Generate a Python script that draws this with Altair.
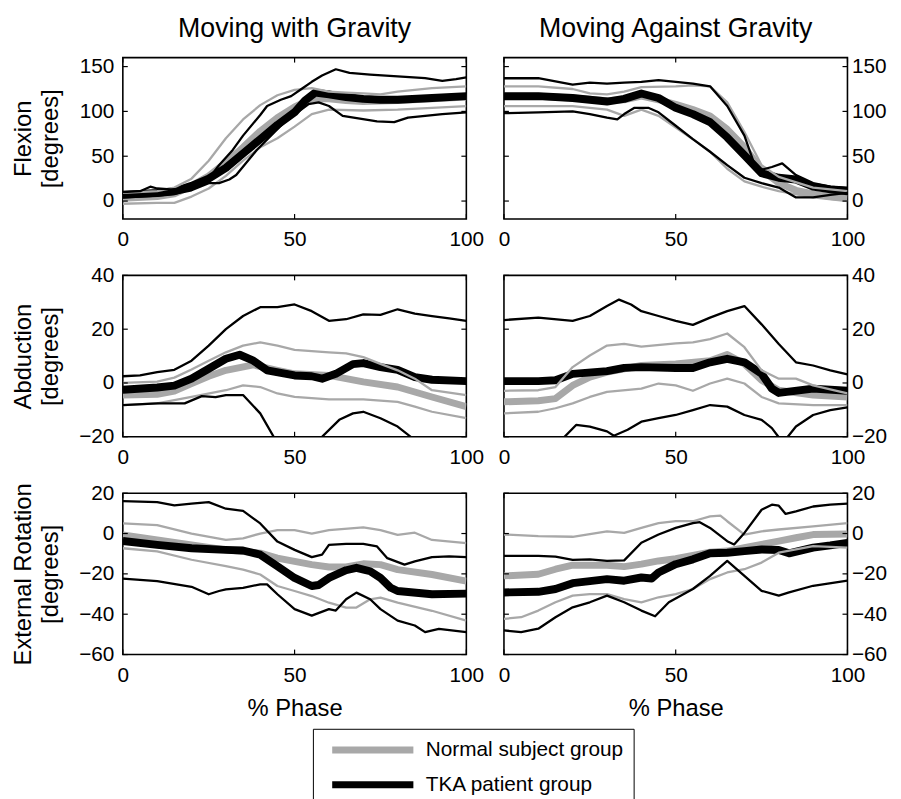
import altair as alt
import pandas as pd

GROUPS = ["Normal subject group", "TKA patient group"]
COL_TITLES = ["Moving with Gravity", "Moving Against Gravity"]
X_TICKS = [0, 50, 100]

# ---------------- Flexion, moving with gravity ----------------
FLEX_WITH_N_MEAN = [(0, 3), (10, 5), (15, 8), (20, 17), (25, 28), (30, 43), (35, 60), (40, 78), (45, 93), (50, 105), (55, 114), (60, 114), (65, 112), (70, 111), (80, 112), (90, 114), (100, 116)]
FLEX_WITH_N_UP = [(0, 9), (10, 11), (15, 15), (20, 25), (25, 45), (30, 70), (35, 91), (40, 107), (45, 118), (50, 124), (55, 126), (60, 122), (65, 121), (70, 120), (75, 119), (80, 122), (90, 126), (100, 128)]
FLEX_WITH_N_LO = [(0, -3), (10, -2), (15, -2), (20, 5), (25, 14), (30, 28), (35, 45), (40, 60), (45, 70), (50, 83), (55, 97), (60, 102), (70, 101), (80, 102), (90, 104), (100, 106)]
FLEX_WITH_T_MEAN = [(0, 7), (5, 8), (10, 9), (15, 11), (20, 17), (25, 25), (30, 37), (35, 53), (40, 69), (45, 85), (50, 99), (53, 112), (56, 121), (60, 119), (65, 116), (70, 114), (75, 113), (80, 113), (90, 115), (100, 117)]
FLEX_WITH_T_UP = [(0, 10), (5, 11), (8, 16), (10, 14), (14, 13), (18, 14), (22, 18), (25, 25), (28, 40), (32, 57), (35, 73), (40, 96), (42, 106), (46, 113), (49, 117), (52, 125), (55, 133), (58, 140), (62, 147), (66, 143), (72, 141), (80, 139), (88, 137), (93, 134), (97, 136), (100, 138)]
FLEX_WITH_T_LO = [(0, 4), (5, 5), (10, 6), (15, 8), (20, 12), (25, 20), (28, 20), (31, 24), (33, 29), (39, 57), (47, 88), (54, 108), (57, 110), (60, 106), (64, 95), (74, 89), (79, 88), (83, 93), (93, 97), (100, 99)]

# ---------------- Flexion, moving against gravity ----------------
FLEX_AGAINST_N_MEAN = [(0, 117), (10, 117), (20, 115), (30, 112), (35, 113), (40, 117), (45, 113), (50, 108), (55, 102), (60, 95), (65, 80), (70, 60), (75, 35), (80, 20), (85, 12), (90, 8), (95, 5), (100, 3)]
FLEX_AGAINST_N_UP = [(0, 128), (10, 128), (20, 125), (25, 120), (30, 119), (35, 122), (40, 127), (50, 128), (55, 129), (60, 128), (65, 110), (70, 77), (75, 40), (80, 27), (90, 15), (100, 11)]
FLEX_AGAINST_N_LO = [(0, 106), (10, 106), (20, 106), (30, 102), (35, 95), (40, 102), (45, 95), (50, 82), (55, 69), (60, 55), (65, 36), (70, 22), (75, 16), (80, 11), (90, 4), (100, 0)]
FLEX_AGAINST_T_MEAN = [(0, 117), (10, 117), (20, 115), (30, 111), (35, 114), (40, 120), (45, 115), (50, 104), (55, 97), (60, 88), (65, 71), (70, 51), (75, 31), (80, 26), (85, 24), (90, 16), (95, 13), (100, 11)]
FLEX_AGAINST_T_UP = [(0, 137), (10, 137), (20, 130), (25, 132), (30, 131), (35, 132), (40, 133), (45, 135), (50, 133), (55, 131), (60, 128), (65, 106), (70, 73), (73, 40), (75, 35), (78, 38), (81, 42), (85, 29), (90, 20), (95, 16), (100, 15)]
FLEX_AGAINST_T_LO = [(0, 98), (10, 99), (20, 100), (25, 97), (30, 93), (33, 91), (35, 97), (38, 104), (42, 104), (45, 99), (50, 84), (55, 69), (60, 55), (65, 40), (70, 26), (75, 20), (80, 15), (85, 4), (90, 4), (95, 7), (100, 9)]

# ---------------- Abduction, moving with gravity ----------------
ABD_WITH_N_MEAN = [(0, -4.5), (10, -4.2), (15, -3), (20, -0.2), (25, 2.5), (30, 4.7), (38, 6.7), (45, 4.7), (50, 3.4), (60, 2.8), (65, 1.6), (70, 0.4), (80, -1.5), (90, -5.2), (100, -8.8)]
ABD_WITH_N_UP = [(0, 0), (10, 0.5), (15, 2), (20, 5), (25, 8.3), (30, 11.4), (35, 13.9), (40, 15.1), (45, 13.9), (50, 12.3), (60, 11.4), (65, 11), (70, 9.6), (75, 7.1), (80, 4.7), (85, 1.6), (90, -2.7), (100, -4.5)]
ABD_WITH_N_LO = [(0, -8.2), (10, -7.6), (20, -5.2), (30, -2.7), (35, -0.9), (40, -1.5), (45, -3.9), (50, -5.2), (60, -6.1), (70, -6.1), (80, -7), (85, -8.8), (90, -10.7), (100, -13.1)]
ABD_WITH_T_MEAN = [(0, -2.5), (10, -1.7), (15, -1), (20, 1.6), (25, 5.3), (30, 9), (34, 10.5), (38, 8.3), (42, 4.7), (50, 2.8), (55, 2.5), (58, 1.6), (62, 3.4), (67, 7), (70, 7.4), (75, 5.9), (80, 4.9), (85, 2.2), (90, 1.2), (100, 0.7)]
ABD_WITH_T_UP = [(0, 2.5), (5, 2.8), (10, 4), (15, 4.9), (20, 8.3), (25, 13.9), (30, 20), (35, 24.9), (40, 28.2), (45, 28.2), (50, 29.2), (55, 26.7), (60, 23.1), (65, 23.7), (70, 25.5), (75, 25.3), (80, 27.4), (85, 25.8), (90, 24.9), (95, 24), (100, 23.1)]
ABD_WITH_T_LO = [(0, -8.2), (10, -7.6), (18, -7.6), (23, -4.9), (27, -5.3), (30, -4.5), (35, -4.5), (40, -11.3), (44, -20.2), (50, -28), (55, -25), (58, -20), (63, -13.7), (67, -11.3), (70, -10.7), (75, -13.1), (80, -16.2), (84, -20.2), (90, -25), (100, -27)]

# ---------------- Abduction, moving against gravity ----------------
ABD_AGAINST_N_MEAN = [(0, -7), (10, -6.6), (15, -5.8), (20, -0.9), (25, 2.2), (30, 4), (40, 6.5), (50, 7.1), (60, 8.3), (65, 10.6), (70, 7.1), (75, 1), (80, -2.7), (90, -4.5), (100, -5.2)]
ABD_AGAINST_N_UP = [(0, -2.9), (10, -2.7), (15, -1.5), (20, 5.9), (25, 10.2), (30, 13.9), (35, 14.5), (40, 13.5), (50, 14.7), (55, 15.1), (60, 16.3), (65, 18.4), (70, 13.3), (75, 4.7), (80, 1.6), (85, 1.6), (90, -0.9), (100, -3.9)]
ABD_AGAINST_N_LO = [(0, -11.3), (10, -10.7), (15, -9.4), (20, -7.6), (25, -5.2), (30, -3.3), (40, -2.1), (45, -0.2), (50, -0.9), (55, -2.9), (60, -0.2), (65, 1.6), (70, -0.2), (75, -5.2), (80, -7.6), (90, -8.2), (100, -8.2)]
ABD_AGAINST_T_MEAN = [(0, 0.7), (10, 0.7), (15, 1), (20, 3.4), (30, 4.4), (35, 5.6), (40, 5.9), (50, 5.6), (55, 5.6), (60, 7.7), (65, 9), (70, 7.7), (75, 3.4), (78, -2.1), (80, -3.7), (90, -2.1), (100, -2.9)]
ABD_AGAINST_T_UP = [(0, 23.4), (10, 24.3), (20, 23.1), (25, 24.9), (30, 28.6), (33.5, 31), (37, 29.2), (40, 26.7), (45, 24.9), (50, 23.1), (55, 21.6), (60, 24.3), (65, 26.7), (70, 28.6), (75, 21.8), (80, 14.5), (85, 7.7), (90, 6.5), (95, 4.7), (100, 3.2)]
ABD_AGAINST_T_LO = [(0, -35), (10, -32), (15, -25), (17.5, -20.2), (21, -15.6), (25, -16.2), (30, -18), (32, -19.6), (36, -17.4), (40, -14.4), (45, -13.1), (50, -11.9), (55, -10.1), (60, -8.2), (65, -8.8), (70, -11.9), (75, -13.7), (78, -16.8), (80, -20.2), (82, -21), (85, -16.2), (90, -11.9), (95, -10.1), (100, -9.1)]

# ---------------- External rotation, moving with gravity ----------------
ROT_WITH_N_MEAN = [(0, -0.7), (10, -3.2), (20, -5.6), (30, -8.1), (40, -9.7), (45, -12.2), (50, -13.8), (55, -15.4), (60, -16.6), (65, -16.6), (70, -15), (75, -15.4), (80, -17.9), (90, -20.3), (100, -23.6)]
ROT_WITH_N_UP = [(0, 5), (10, 4.2), (20, 0), (30, -3.2), (35, -2.4), (40, 0), (45, 1.7), (50, 1.7), (55, 0), (60, 1.7), (70, 3), (75, 1.7), (80, -0.7), (85, 0.4), (90, -3.2), (100, -4.8)]
ROT_WITH_N_LO = [(0, -7.3), (10, -8.9), (20, -13), (30, -16.2), (35, -17.9), (40, -20.3), (45, -26), (50, -28.5), (55, -31), (60, -34.3), (65, -36.7), (68, -36.7), (72, -32.6), (75, -31.8), (80, -34.3), (90, -38.3), (100, -43.2)]
ROT_WITH_T_MEAN = [(0, -3.7), (10, -5.6), (20, -7.3), (30, -8.1), (35, -8.4), (40, -10.5), (45, -16.2), (50, -22), (55, -26), (57, -25.5), (60, -22), (65, -18.2), (68, -17), (72, -18.7), (75, -22), (78, -26.9), (80, -28.5), (90, -30.1), (100, -29.8)]
ROT_WITH_T_UP = [(0, 16.1), (10, 15.6), (15, 14), (20, 14.8), (25, 15.6), (30, 12.3), (35, 11.2), (40, 5), (45, -4), (50, -8.1), (55, -11.7), (58, -10.5), (60, -5.6), (65, -5.1), (70, -5.1), (74, -6.4), (77, -12.2), (82, -15.4), (85, -13.8), (90, -11.7), (95, -11.3), (100, -11.7)]
ROT_WITH_T_LO = [(0, -22.4), (10, -23.6), (20, -26.4), (25, -30.1), (28, -28.5), (30, -27.7), (35, -26.9), (40, -25.2), (42, -25.2), (45, -30.1), (50, -37.5), (55, -40.7), (60, -37.5), (62, -38.2), (65, -32.6), (68, -29.3), (72, -32.6), (75, -37.5), (80, -43.2), (85, -45.6), (88, -48.9), (92, -47.3), (100, -48.9)]

# ---------------- External rotation, moving against gravity ----------------
ROT_AGAINST_N_MEAN = [(0, -21), (10, -20.2), (15, -17.7), (20, -15.7), (30, -15.7), (35, -16.4), (40, -15.2), (45, -13.6), (50, -12.5), (60, -9.2), (65, -8.7), (70, -7), (75, -5.4), (80, -3.8), (85, -2.1), (90, -0.5), (100, -0.2)]
ROT_AGAINST_N_UP = [(0, -0.5), (10, -1.3), (20, -1.6), (30, 1.1), (35, 0.3), (40, 2.8), (45, 5.2), (50, 6.1), (55, 6.1), (60, 8.5), (63, 8.9), (65, 6.1), (70, -0.5), (75, 1.1), (80, 2), (90, 3.6), (100, 5.2)]
ROT_AGAINST_N_LO = [(0, -42.3), (5, -41.5), (10, -38.2), (15, -34.1), (20, -30.8), (25, -30), (30, -30), (35, -32.5), (40, -34.1), (45, -31.6), (50, -30), (55, -27.5), (60, -22.6), (65, -19.3), (70, -17.7), (75, -14.4), (80, -9.5), (90, -6.2), (100, -7)]
ROT_AGAINST_T_MEAN = [(0, -29.2), (10, -28.9), (15, -27.5), (20, -24.6), (30, -22.6), (35, -23.4), (40, -21.8), (43, -22.3), (45, -19.3), (50, -15.2), (55, -12.8), (60, -9.8), (65, -9.5), (70, -8.7), (75, -7.9), (80, -8.2), (83, -9.8), (90, -7), (95, -5.9), (100, -4.6)]
ROT_AGAINST_T_UP = [(0, -11.1), (10, -11.1), (15, -11.5), (20, -13.1), (25, -12.8), (30, -13.6), (35, -13.3), (40, -4.6), (45, -0.5), (50, 2.8), (55, 5.2), (57, 5.6), (60, 2.8), (65, -3.8), (67, -5.4), (70, 0.3), (75, 11.8), (78, 14.3), (80, 13.8), (82, 9.7), (85, 11), (90, 13.4), (95, 14.3), (100, 14.8)]
ROT_AGAINST_T_LO = [(0, -48), (5, -48.9), (10, -47.2), (15, -41.5), (20, -36.6), (25, -34.1), (30, -30.8), (35, -34.1), (40, -38.2), (44, -41), (48, -34.1), (55, -27.5), (60, -21), (65, -13.6), (70, -21), (75, -28.4), (80, -30.8), (83, -29.2), (90, -25.9), (100, -23.4)]

ROWS = [
    dict(title=["Flexion", "[degrees]"], domain=[-20, 160], ticks=[0, 50, 100, 150],
         panels=[(FLEX_WITH_N_MEAN, FLEX_WITH_N_UP, FLEX_WITH_N_LO, FLEX_WITH_T_MEAN, FLEX_WITH_T_UP, FLEX_WITH_T_LO),
                 (FLEX_AGAINST_N_MEAN, FLEX_AGAINST_N_UP, FLEX_AGAINST_N_LO, FLEX_AGAINST_T_MEAN, FLEX_AGAINST_T_UP, FLEX_AGAINST_T_LO)]),
    dict(title=["Abduction", "[degrees]"], domain=[-20, 40], ticks=[-20, 0, 20, 40],
         panels=[(ABD_WITH_N_MEAN, ABD_WITH_N_UP, ABD_WITH_N_LO, ABD_WITH_T_MEAN, ABD_WITH_T_UP, ABD_WITH_T_LO),
                 (ABD_AGAINST_N_MEAN, ABD_AGAINST_N_UP, ABD_AGAINST_N_LO, ABD_AGAINST_T_MEAN, ABD_AGAINST_T_UP, ABD_AGAINST_T_LO)]),
    dict(title=["External Rotation", "[degrees]"], domain=[-60, 20], ticks=[-60, -40, -20, 0, 20],
         panels=[(ROT_WITH_N_MEAN, ROT_WITH_N_UP, ROT_WITH_N_LO, ROT_WITH_T_MEAN, ROT_WITH_T_UP, ROT_WITH_T_LO),
                 (ROT_AGAINST_N_MEAN, ROT_AGAINST_N_UP, ROT_AGAINST_N_LO, ROT_AGAINST_T_MEAN, ROT_AGAINST_T_UP, ROT_AGAINST_T_LO)]),
]

W, H = 347, 163
TICK = 5
FONT = "Liberation Sans"


def series_frame(lists):
    names = [("n_mean", GROUPS[0], "mean"), ("n_up", GROUPS[0], "sd"), ("n_lo", GROUPS[0], "sd"),
             ("t_mean", GROUPS[1], "mean"), ("t_up", GROUPS[1], "sd"), ("t_lo", GROUPS[1], "sd")]
    rows = []
    for (name, grp, kind), pts in zip(names, lists):
        for i, (x, y) in enumerate(pts):
            rows.append(dict(series=name, group=grp, kind=kind, x=x, y=y, i=i))
    return pd.DataFrame(rows)


def panel(r, c):
    row = ROWS[r]
    df = series_frame(row["panels"][c])
    xenc = alt.X("x:Q", scale=alt.Scale(domain=[0, 100], nice=False, zero=False),
                 axis=alt.Axis(values=X_TICKS, ticks=False, domain=False, grid=False, labelFlush=False,
                               labelPadding=10, labelFontSize=21, labelColor="black",
                               title="% Phase" if r == 2 else None, titleFontSize=24,
                               titleFontWeight="normal", titlePadding=12, titleColor="black"))
    if c == 0:
        yaxis = alt.Axis(orient="left", values=row["ticks"], ticks=False, domain=False, grid=False,
                         labelFlush=False, labelPadding=9, labelFontSize=21, labelColor="black",
                         title=row["title"], titleFontSize=24, titleFontWeight="normal",
                         titleColor="black", titleLineHeight=27, titleX=-88, titleY=H / 2,
                         titleAngle=270, titleAlign="center", titleBaseline="bottom")
    else:
        yaxis = alt.Axis(orient="right", values=row["ticks"], ticks=False, domain=False, grid=False,
                         labelFlush=False, labelPadding=4, labelFontSize=21, labelColor="black",
                         title=None)
    yenc = alt.Y("y:Q", scale=alt.Scale(domain=row["domain"], nice=False, zero=False), axis=yaxis)
    color = alt.Color("group:N", scale=alt.Scale(domain=GROUPS, range=["#a8a8a8", "#000000"]),
                      legend=alt.Legend(title=None))
    base = alt.Chart(df)
    layers = []
    for grp, kind, sw in [(GROUPS[0], "mean", 7), (GROUPS[1], "mean", 8), (GROUPS[0], "sd", 2.3), (GROUPS[1], "sd", 2.3)]:
        layers.append(
            base.transform_filter((alt.datum.group == grp) & (alt.datum.kind == kind))
            .mark_line(strokeWidth=sw, clip=True, strokeJoin="round", strokeCap="butt")
            .encode(x=xenc, y=yenc, color=color, detail="series:N", order="i:Q")
        )
    xt = pd.DataFrame({"x": X_TICKS})
    yt = pd.DataFrame({"y": row["ticks"]})
    for y0, y1 in [(H, H - TICK), (0, TICK)]:
        layers.append(alt.Chart(xt).mark_rule(color="black", strokeWidth=1.2)
                      .encode(x=xenc, y=alt.value(y0), y2=alt.value(y1)))
    for x0, x1 in [(0, TICK), (W - TICK, W)]:
        layers.append(alt.Chart(yt).mark_rule(color="black", strokeWidth=1.2)
                      .encode(y=yenc, x=alt.value(x0), x2=alt.value(x1)))
    ch = alt.layer(*layers).properties(width=W, height=H)
    if r == 0:
        ch = ch.properties(title=alt.TitleParams(COL_TITLES[c], fontSize=27, fontWeight="normal",
                                                 anchor="middle", offset=13, color="black"))
    return ch


charts = [panel(r, c) for r in range(3) for c in range(2)]

chart = alt.concat(*charts, columns=2, spacing={"row": 57, "column": 38}, bounds="flush").configure(
    font=FONT, padding={"left": 3, "top": 2, "right": 5, "bottom": 5}
).configure_view(stroke="black", strokeWidth=1.6).configure_legend(
    orient="none", legendX=192, legendY=678, strokeColor="black", padding=10, cornerRadius=0,
    fillColor="white", symbolType="M-0.25,0H10", symbolStrokeWidth=7, symbolSize=256,
    labelFontSize=21, labelColor="black", labelOffset=81, rowPadding=6, labelLimit=400
)

chart.save("out.html", embed_options={"renderer": "svg", "actions": False})
